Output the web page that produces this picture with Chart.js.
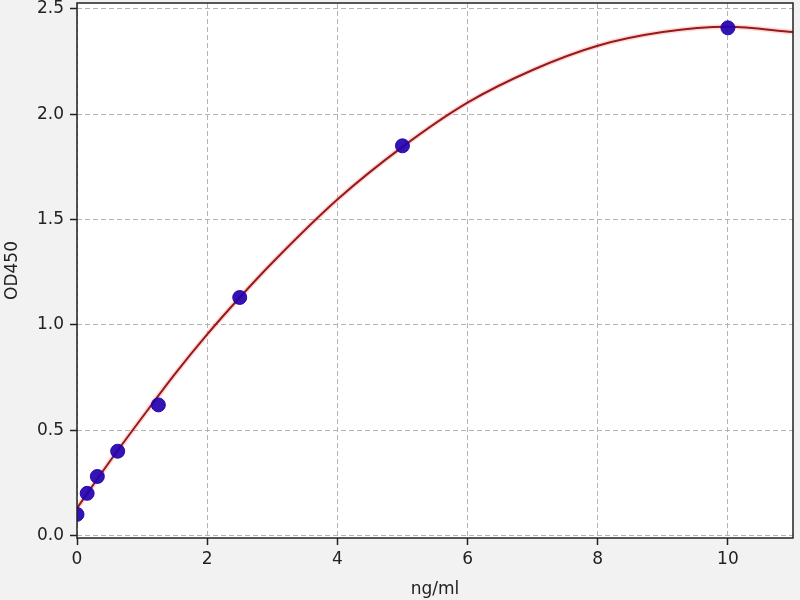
<!DOCTYPE html>
<html>
<head>
<meta charset="utf-8">
<script src="https://cdn.jsdelivr.net/npm/chart.js@4"></script>
<style>
    html, body { margin: 0; padding: 0; background: #f2f2f2; }
    #wrap { width: 800px; height: 600px; }
</style>
</head>
<body>
<div id="wrap"><canvas id="stdCurve" width="800" height="600"></canvas></div>
<script>
// standard points (concentration, OD)
const concentrations = [0, 0.156, 0.3125, 0.625, 1.25, 2.5, 5, 10];
const odValues = [0.10, 0.20, 0.28, 0.40, 0.62, 1.13, 1.85, 2.41];

// fitted curve
const curveX = [0, 0.5, 1, 1.5, 2, 2.5, 3, 4, 5, 6, 7, 8, 9, 10, 11];
const curveY = [0.13, 0.35, 0.56, 0.765, 0.955, 1.13, 1.295, 1.595, 1.845, 2.055, 2.21, 2.325, 2.39, 2.415, 2.39];

const xTicks = [0, 2, 4, 6, 8, 10];
const yTicks = [0, 0.5, 1.0, 1.5, 2.0, 2.5];

const toPoints = (xs, ys) => xs.map((x, i) => ({ x: x, y: ys[i] }));

// paints the figure background, the white plot area and the frame
const framePlugin = {
    id: 'frame',
    beforeDraw(chart) {
        const { ctx, chartArea: a } = chart;
        ctx.save();
        ctx.fillStyle = '#f2f2f2';
        ctx.fillRect(0, 0, chart.width, chart.height);
        ctx.fillStyle = '#ffffff';
        ctx.fillRect(a.left, a.top, a.right - a.left, a.bottom - a.top);
        ctx.restore();
    },
    afterDraw(chart) {
        const { ctx, chartArea: a } = chart;
        ctx.save();
        ctx.strokeStyle = '#222';
        ctx.lineWidth = 1.5;
        ctx.strokeRect(a.left, a.top, a.right - a.left, a.bottom - a.top);
        ctx.restore();
    }
};

const font = { family: 'DejaVu Sans', size: 17 };

const gridStyle = {
    color: '#b4b4b4',
    tickLength: 7,
    tickColor: '#222',
    tickBorderDash: [],
    tickWidth: 1.5
};

const ctx = document.getElementById('stdCurve').getContext('2d');
const chart = new Chart(ctx, {
    type: 'scatter',
    data: {
        datasets: [
            {
                label: 'standards',
                data: toPoints(concentrations, odValues),
                backgroundColor: 'rgba(35, 0, 175, 0.92)',
                borderColor: 'rgba(35, 0, 175, 0.92)',
                pointRadius: 7,
                pointHoverRadius: 7,
                order: 0
            },
            {
                label: 'fit',
                data: toPoints(curveX, curveY),
                showLine: true,
                borderColor: '#961a1a',
                borderWidth: 2,
                pointRadius: 0,
                cubicInterpolationMode: 'monotone',
                order: 1
            },
            {
                label: 'glow',
                data: toPoints(curveX, curveY),
                showLine: true,
                borderColor: 'rgba(255, 130, 130, 0.3)',
                borderWidth: 5,
                pointRadius: 0,
                cubicInterpolationMode: 'monotone',
                order: 2
            }
        ]
    },
    options: {
        responsive: false,
        animation: false,
        layout: { autoPadding: false, padding: { top: 3, right: 7, left: 0, bottom: 0 } },
        plugins: {
            legend: { display: false },
            tooltip: { enabled: false }
        },
        scales: {
            x: {
                type: 'linear',
                min: 0,
                max: 11,
                afterBuildTicks: (scale) => { scale.ticks = xTicks.map(v => ({ value: v })); },
                afterFit: (scale) => {
                    scale.height = 62;
                    scale.paddingLeft = 0;
                    scale.paddingRight = 0;
                },
                border: { display: false, dash: [5, 3] },
                grid: gridStyle,
                ticks: {
                    font: font,
                    color: '#222',
                    padding: 4,
                    maxRotation: 0,
                    callback: (v) => String(v)
                },
                title: {
                    display: true,
                    text: 'ng/ml',
                    font: font,
                    color: '#222',
                    padding: { top: 2, bottom: 0 }
                }
            },
            y: {
                type: 'linear',
                min: -0.012,
                max: 2.528,
                afterBuildTicks: (scale) => { scale.ticks = yTicks.map(v => ({ value: v })); },
                afterFit: (scale) => {
                    scale.width = 77;
                    scale.paddingTop = 0;
                    scale.paddingBottom = 0;
                },
                border: { display: false, dash: [5, 3] },
                grid: gridStyle,
                ticks: {
                    font: font,
                    color: '#222',
                    padding: 6,
                    callback: (v) => v.toFixed(1)
                },
                title: {
                    display: true,
                    text: 'OD450',
                    font: font,
                    color: '#222',
                    padding: { top: 2, bottom: 4 }
                }
            }
        }
    },
    plugins: [framePlugin]
});
</script>
</body>
</html>
